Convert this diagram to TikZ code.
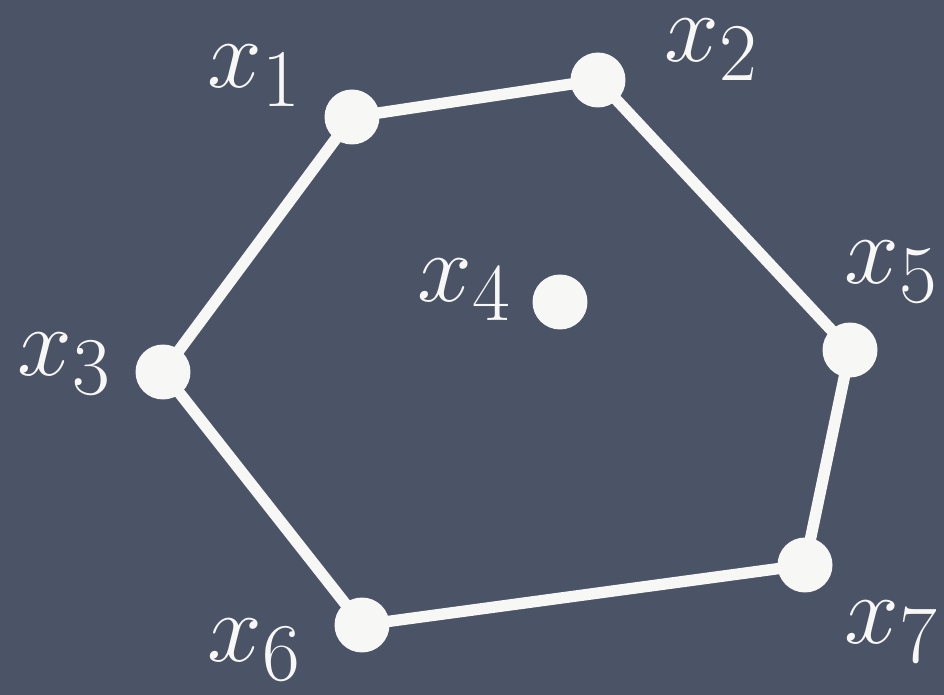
\documentclass[tikz,border=0pt]{standalone}
\usepackage{tikz}
\usetikzlibrary{positioning}

\definecolor{board}{HTML}{4B5366}
\definecolor{chalk}{HTML}{F7F7F5}

\begin{document}
\begin{tikzpicture}[x=0.02cm, y=-0.02cm,
    chalkdot/.style={circle, fill=chalk, inner sep=0pt, minimum size=1.1cm},
    chalklbl/.style={text=chalk, font=\Huge, scale=2.25, inner sep=0pt},
    hull/.style={draw=chalk, line width=6.5pt, line join=round}]
  \fill[board] (0,0) rectangle (944,695);

  % points
  \node[chalkdot] (p1) at (352,117) {};
  \node[chalkdot] (p2) at (598,80) {};
  \node[chalkdot] (p3) at (163,372) {};
  \node[chalkdot] (p4) at (560,302) {};
  \node[chalkdot] (p5) at (850,350) {};
  \node[chalkdot] (p6) at (362,625) {};
  \node[chalkdot] (p7) at (805,565) {};

  % labels
  \node[chalklbl] (l1) at (255,76) {$x_1$};
  \node[chalklbl] (l2) at (712,50) {$x_2$};
  \node[chalklbl] (l3) at (65,364) {$x_3$};
  \node[chalklbl] (l4) at (465,290) {$x_4$};
  \node[chalklbl] (l5) at (892,272) {$x_5$};
  \node[chalklbl] (l6) at (255,650) {$x_6$};
  \node[chalklbl] (l7) at (892,632) {$x_7$};

  % convex hull
  \draw[hull] (p1.center) -- (p2.center) -- (p5.center) -- (p7.center)
    -- (p6.center) -- (p3.center) -- cycle;
\end{tikzpicture}
\end{document}
